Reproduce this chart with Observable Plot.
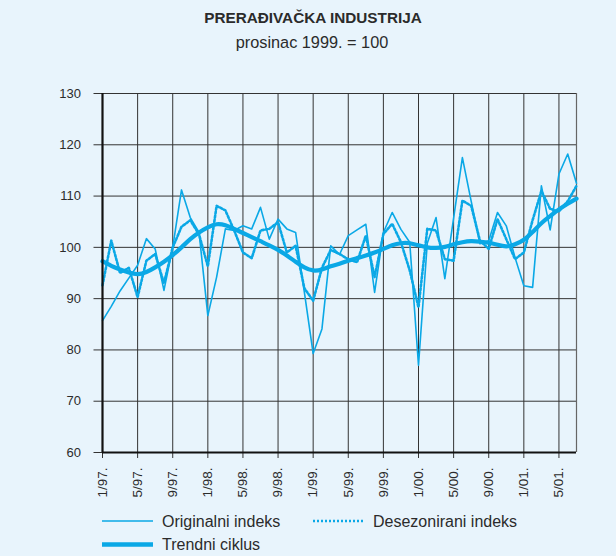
<!DOCTYPE html>
<html><head><meta charset="utf-8">
<script src="https://cdn.jsdelivr.net/npm/d3@7"></script>
<script src="https://cdn.jsdelivr.net/npm/@observablehq/plot@0.6"></script>
<style>
html,body{margin:0;padding:0;background:#e8f4fc;}
#wrap{position:relative;width:616px;height:556px;background:#e8f4fc;font-family:"Liberation Sans",Arial,sans-serif;color:#2b2b2b;overflow:hidden}
#title{position:absolute;left:0;width:626px;top:9px;text-align:center;font-weight:bold;font-size:15.3px;line-height:18px}
#sub{position:absolute;left:0;width:624px;top:33px;text-align:center;font-size:16.3px;line-height:18px}
#chart{position:absolute;left:0;top:0}
#legend{position:absolute;left:0;top:505px}
</style></head>
<body><div id="wrap">
<div id="title">PRERAĐIVAČKA INDUSTRIJA</div>
<div id="sub">prosinac 1999. = 100</div>
<div id="chart"></div>
<svg id="legend" width="616" height="51"></svg>
</div>
<script>
const tickLabels = ["1/97.","5/97.","9/97.","1/98.","5/98.","9/98.","1/99.","5/99.","9/99.","1/00.","5/00.","9/00.","1/01.","5/01."];
const yTicks = [60,70,80,90,100,110,120,130];
const seriesNames = ["Originalni indeks","Desezonirani indeks","Trendni ciklus"];
const original = [85.7,88.5,91.5,94,96.5,101.7,99.7,91.6,100,111.2,
  105.8,102.9,86.7,94.2,103.6,103.3,104.2,103.6,107.8,101.6,
  105.5,103.6,102.9,91.2,79.3,84.1,100.3,98.6,102.3,103.4,
  104.5,91.2,102.9,106.8,103.5,101,77,100.8,105.8,93.9,
  105.7,117.5,109,100.7,101.3,106.8,104.2,98,92.5,92.2,
  112,103.4,114.3,118.2,112.5];
const seasonal = [92.6,101.3,95.0,96.0,90.3,97.4,98.7,93.0,100,104,
  105.3,102.5,96.3,108.1,107.2,103.3,99,97.9,103.3,103.6,
  104.9,99,100.3,92,89.6,96,99.5,98.7,97.7,97.1,
  102.3,94.2,102.6,104.6,101,95.5,88.3,103.6,103.3,97.7,
  97.4,109.1,108.1,101.3,99.7,105.5,101.6,97.7,99,105.3,
  111,107.5,107,109,112];
const trend = [97.3,96.4,95.7,95.1,94.8,95.2,96.1,97.2,98.5,100.0,
  101.6,102.9,103.9,104.5,104.3,103.6,102.8,102.0,101.2,100.4,
  99.5,98.4,97.2,96.1,95.5,95.7,96.3,96.8,97.4,97.9,
  98.4,99.0,99.7,100.4,100.8,100.8,100.4,100.0,99.9,100.1,
  100.6,101.0,101.2,101.1,100.9,100.5,100.2,100.6,101.5,103.0,
  104.7,106.1,107.4,108.5,109.5];

const blue = "#0aa8e6";
const toRows = arr => arr.map((v,i)=>({m:i, v}));
const xTickPos = tickLabels.map((_,i)=>i*4);

const chart = Plot.plot({
  width: 616, height: 510,
  marginTop: 93, marginBottom: 58, marginLeft: 102, marginRight: 40,
  style: {background: "transparent", fontFamily: "Liberation Sans, Arial, sans-serif", color: "#2b2b2b"},
  x: {domain: [0, original.length - 1], axis: null},
  y: {domain: [60, 130], axis: null},
  marks: [
    Plot.gridY(yTicks, {stroke: "#333", strokeOpacity: 1, strokeWidth: 1}),
    Plot.gridX(xTickPos, {stroke: "#333", strokeOpacity: 1, strokeWidth: 1}),
    Plot.ruleX([original.length - 1], {stroke: "#666", strokeWidth: 1.2}),
    Plot.axisY(yTicks, {tickSize: 8.5, tickPadding: 13, fontSize: 13, stroke: "#333", label: null}),
    Plot.axisX(xTickPos, {tickSize: 6, tickPadding: 9, tickRotate: -90, fontSize: 13.5, stroke: "#333", label: null,
      tickFormat: d => tickLabels[d / 4]}),
    Plot.line(toRows(original), {x: "m", y: "v", stroke: blue, strokeWidth: 1.6}),
    Plot.line(toRows(seasonal), {x: "m", y: "v", stroke: blue, strokeWidth: 2.6, strokeDasharray: "2,2"}),
    Plot.line(toRows(trend), {x: "m", y: "v", stroke: blue, strokeWidth: 4.2, curve: "natural"}),
    Plot.ruleX([0], {stroke: "#111", strokeWidth: 2.2}),
    Plot.ruleY([60], {stroke: "#111", strokeWidth: 2.2})
  ]
});
document.getElementById("chart").appendChild(chart);

// legend
const leg = d3.select("#legend");
const items = [
  {name: seriesNames[0], x: 102, y: 16, w: 1.6, dash: null},
  {name: seriesNames[1], x: 313, y: 16, w: 2.6, dash: "2,2"},
  {name: seriesNames[2], x: 102, y: 39.5, w: 4.5, dash: null}
];
for (const it of items) {
  leg.append("line").attr("x1", it.x).attr("x2", it.x + 51).attr("y1", it.y).attr("y2", it.y)
    .attr("stroke", blue).attr("stroke-width", it.w).attr("stroke-dasharray", it.dash);
  leg.append("text").attr("x", it.x + 60).attr("y", it.y + 5.6).text(it.name)
    .attr("font-size", 16).attr("fill", "#2b2b2b").attr("font-family", "Liberation Sans, Arial, sans-serif");
}
</script>
</body></html>
